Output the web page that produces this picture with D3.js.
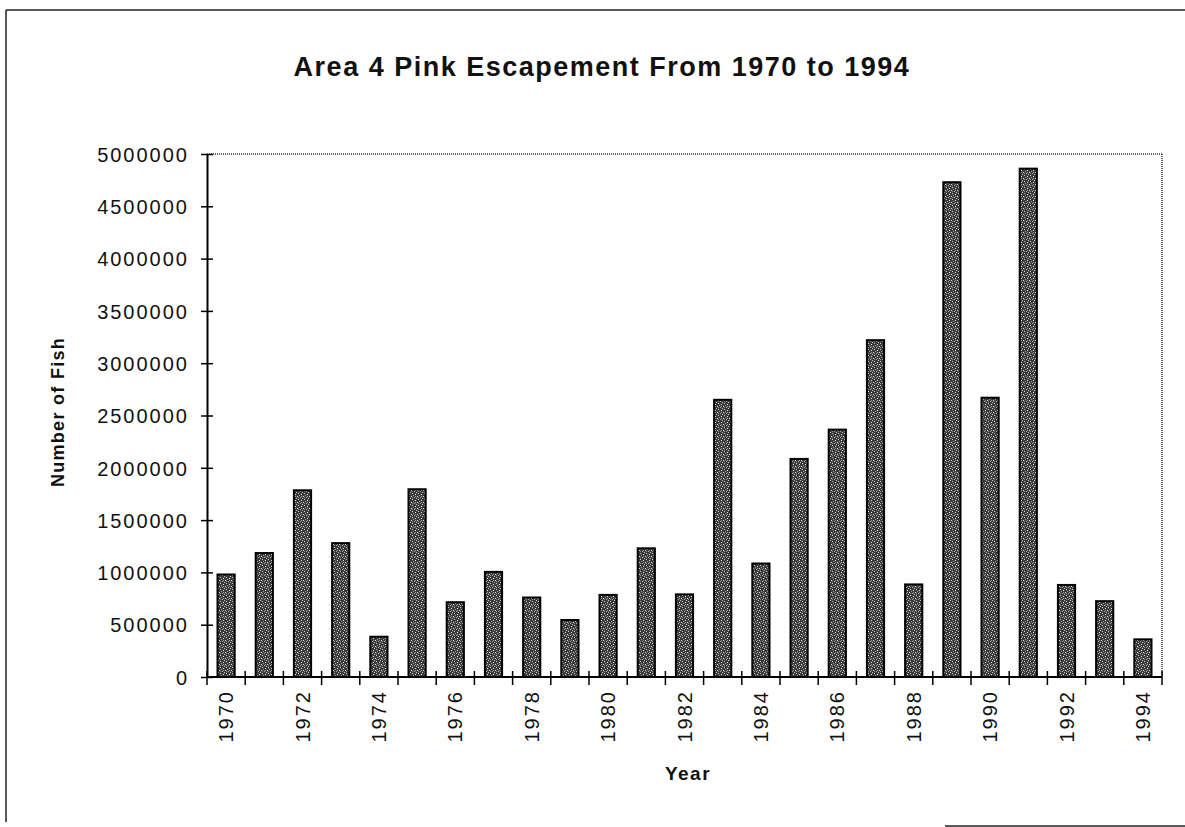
<!DOCTYPE html>
<html>
<head>
<meta charset="utf-8">
<script src="https://cdn.jsdelivr.net/npm/d3@7"></script>
<style>
  body { margin: 0; background: #fff; }
  text { font-family: "Liberation Sans", Arial, sans-serif; fill: #111; }
</style>
</head>
<body>
<div class="chart"></div>
<script>
// Area 4 pink escapement
var years = [1970, 1971, 1972, 1973, 1974, 1975, 1976, 1977, 1978, 1979, 1980, 1981,
  1982, 1983, 1984, 1985, 1986, 1987, 1988, 1989, 1990, 1991, 1992, 1993, 1994];
var fish = [980000, 1185000, 1785000, 1280000, 385000, 1795000, 715000, 1005000, 760000,
  545000, 785000, 1230000, 790000, 2650000, 1085000, 2085000, 2365000, 3220000, 885000,
  4730000, 2670000, 4860000, 880000, 725000, 360000];
var yTicks = [0, 500000, 1000000, 1500000, 2000000, 2500000, 3000000, 3500000, 4000000, 4500000, 5000000];

var svgWidth = 1185;
var svgHeight = 827;

var margin = { top: 154, right: 23, bottom: 150, left: 207 };
var width = svgWidth - margin.left - margin.right;
var height = svgHeight - margin.top - margin.bottom;

var svg = d3.select(".chart")
  .append("svg")
  .attr("width", svgWidth)
  .attr("height", svgHeight);

// speckled fill like the old printer shading
var defs = svg.append("defs");
var pat = defs.append("pattern")
  .attr("id", "speckle")
  .attr("patternUnits", "userSpaceOnUse")
  .attr("width", 6)
  .attr("height", 6);
pat.append("rect").attr("width", 6).attr("height", 6).attr("fill", "#3a3a3a");
var dots = [[0, 0, "#e0e0e0"], [3, 1, "#b0b0b0"], [1, 3, "#d0d0d0"], [4, 4, "#e8e8e8"],
  [2, 5, "#a0a0a0"], [5, 2, "#c8c8c8"], [1, 1, "#888"], [4, 0, "#999"]];
dots.forEach(function (p) {
  pat.append("rect").attr("x", p[0]).attr("y", p[1]).attr("width", 1).attr("height", 1).attr("fill", p[2]);
});

// outer frame (partial, as scanned)
svg.append("line").attr("x1", 6).attr("y1", 10).attr("x2", 1185).attr("y2", 10)
  .attr("stroke", "#222").attr("stroke-width", 1.5);
svg.append("line").attr("x1", 6).attr("y1", 10).attr("x2", 6).attr("y2", 822)
  .attr("stroke", "#222").attr("stroke-width", 1.5);
svg.append("line").attr("x1", 945).attr("y1", 826).attr("x2", 1185).attr("y2", 826)
  .attr("stroke", "#222").attr("stroke-width", 1.5);

var chartGroup = svg.append("g")
  .attr("transform", `translate(${margin.left}, ${margin.top})`);

var xBandScale = d3.scaleBand()
  .domain(years)
  .range([0, width])
  .paddingInner(0.55)
  .paddingOuter(0.275);

var yLinearScale = d3.scaleLinear()
  .domain([0, 5000000])
  .range([height, 0]);

// dotted plot area edges (top and right)
chartGroup.append("line")
  .attr("x1", 0).attr("y1", 0).attr("x2", width).attr("y2", 0)
  .attr("stroke", "#333").attr("stroke-width", 1.5).attr("stroke-dasharray", "1,1");
chartGroup.append("line")
  .attr("x1", width).attr("y1", 0).attr("x2", width).attr("y2", height)
  .attr("stroke", "#333").attr("stroke-width", 1.5).attr("stroke-dasharray", "1,1");

// bars
chartGroup.selectAll("rect.bar")
  .data(years)
  .enter()
  .append("rect")
  .attr("class", "bar")
  .attr("x", d => xBandScale(d))
  .attr("y", (d, i) => yLinearScale(fish[i]))
  .attr("width", xBandScale.bandwidth())
  .attr("height", (d, i) => height - yLinearScale(fish[i]))
  .attr("fill", "url(#speckle)")
  .attr("stroke", "#000")
  .attr("stroke-width", 2);

// y axis with crossing ticks
var leftAxis = d3.axisLeft(yLinearScale)
  .tickValues(yTicks)
  .tickFormat(d3.format("d"))
  .tickSizeInner(6)
  .tickSizeOuter(0)
  .tickPadding(12);

var yAxis = chartGroup.append("g").call(leftAxis);
yAxis.select(".domain").attr("stroke", "#000").attr("stroke-width", 2);
yAxis.selectAll(".tick line").attr("x2", 6).attr("x1", -6).attr("stroke-width", 1.5);
yAxis.selectAll(".tick text")
  .attr("font-size", 20)
  .attr("letter-spacing", 2)
  .attr("dy", "0.36em")
  .attr("font-family", "Liberation Sans, Arial, sans-serif")
  .attr("fill", "#111");

// x axis: ticks between categories, labels on every other year
var xAxis = chartGroup.append("g")
  .attr("transform", `translate(0, ${height})`);
xAxis.append("line")
  .attr("x1", 0).attr("x2", width)
  .attr("stroke", "#000").attr("stroke-width", 2);

var step = xBandScale.step();
var start = xBandScale(years[0]) - xBandScale.paddingOuter() * step;
xAxis.selectAll("line.tick")
  .data(d3.range(years.length + 1))
  .enter()
  .append("line")
  .attr("class", "tick")
  .attr("x1", i => start + i * step)
  .attr("x2", i => start + i * step)
  .attr("y1", -6)
  .attr("y2", 8)
  .attr("stroke", "#000")
  .attr("stroke-width", 1.5);

xAxis.selectAll("text.year")
  .data(years.filter(d => d % 2 === 0))
  .enter()
  .append("text")
  .attr("class", "year")
  .attr("transform", d => `translate(${xBandScale(d) + xBandScale.bandwidth() / 2 + 7}, 13) rotate(-90)`)
  .attr("text-anchor", "end")
  .attr("font-size", 20)
  .attr("letter-spacing", 2)
  .text(d => d);

// title and axis labels
svg.append("text")
  .attr("x", 602)
  .attr("y", 76)
  .attr("text-anchor", "middle")
  .attr("font-size", 27)
  .attr("font-weight", "bold")
  .attr("letter-spacing", 1.5)
  .text("Area 4 Pink Escapement From 1970 to 1994");

svg.append("text")
  .attr("transform", "translate(64, 412) rotate(-90)")
  .attr("text-anchor", "middle")
  .attr("font-size", 18)
  .attr("font-weight", "bold")
  .attr("letter-spacing", 1.3)
  .text("Number of Fish");

svg.append("text")
  .attr("x", 688)
  .attr("y", 780)
  .attr("text-anchor", "middle")
  .attr("font-size", 19)
  .attr("font-weight", "bold")
  .attr("letter-spacing", 1.5)
  .text("Year");
</script>
</body>
</html>
